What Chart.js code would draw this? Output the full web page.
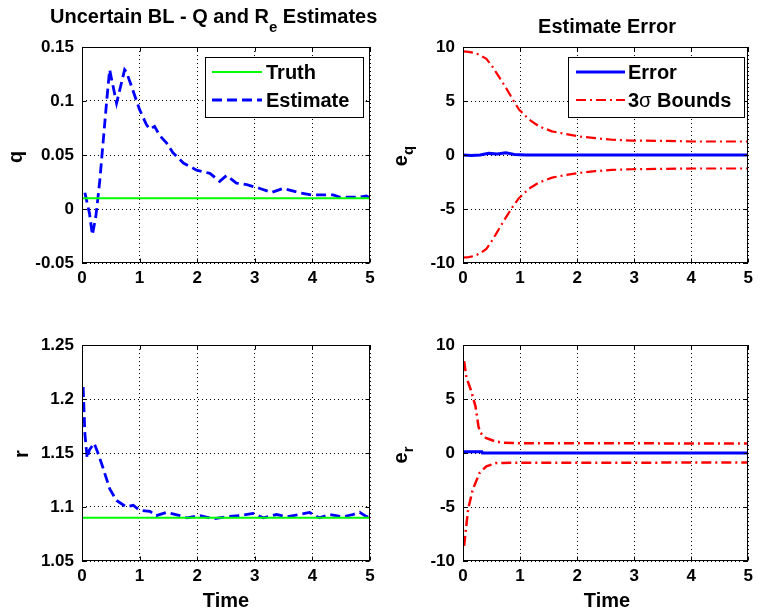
<!DOCTYPE html>
<html>
<head>
<meta charset="utf-8">
<script src="https://cdn.jsdelivr.net/npm/chart.js@4/dist/chart.umd.min.js"></script>
<style>
  html, body { margin: 0; padding: 0; background: #ffffff; }
  #wrap { position: relative; width: 758px; height: 614px; background: #ffffff; }
  #wrap canvas { position: absolute; left: 0; top: 0; }
</style>
</head>
<body>
<div id="wrap">
  <canvas id="c1" width="758" height="614"></canvas>
  <canvas id="c2" width="758" height="614"></canvas>
  <canvas id="c3" width="758" height="614"></canvas>
  <canvas id="c4" width="758" height="614"></canvas>
</div>
<script>
// ---------------- DATA ----------------
const timeTicks = [0, 1, 2, 3, 4, 5];
const timeTickLabels = ['0', '1', '2', '3', '4', '5'];

// q estimate (top-left)
const qTime = [0.05, 0.13, 0.18, 0.24, 0.28, 0.31, 0.37, 0.43, 0.48, 0.60, 0.74, 0.77, 0.85, 1.00, 1.12, 1.18, 1.26, 1.35, 1.47, 1.58, 1.76, 1.99, 2.22, 2.39, 2.51, 2.68, 2.86, 3.09, 3.29, 3.49, 3.78, 3.98, 4.36, 4.47, 4.82, 4.94, 5.00];
const qEstimate = [0.015, -0.004, -0.024, -0.007, 0.012, 0.027, 0.064, 0.101, 0.129, 0.098, 0.129, 0.127, 0.115, 0.092, 0.078, 0.074, 0.0765, 0.068, 0.061, 0.052, 0.0426, 0.036, 0.033, 0.0256, 0.031, 0.024, 0.0225, 0.019, 0.0154, 0.019, 0.015, 0.013, 0.013, 0.011, 0.011, 0.012, 0.010];
const qTruthTime = [0, 5];
const qTruth = [0.01, 0.01];
const qTicks = [-0.05, 0, 0.05, 0.1, 0.15];
const qTickLabels = ['-0.05', '0', '0.05', '0.1', '0.15'];

// r estimate (bottom-left)
const rTime = [0.02, 0.05, 0.09, 0.13, 0.21, 0.27, 0.36, 0.48, 0.60, 0.77, 0.89, 1.00, 1.18, 1.29, 1.47, 1.70, 1.82, 2.05, 2.28, 2.51, 2.74, 2.97, 3.15, 3.38, 3.55, 3.78, 3.95, 4.12, 4.30, 4.53, 4.70, 4.82, 4.94, 5.00];
const rEstimate = [1.211, 1.168, 1.145, 1.153, 1.159, 1.151, 1.137, 1.117, 1.106, 1.100, 1.1016, 1.097, 1.096, 1.092, 1.095, 1.092, 1.090, 1.092, 1.089, 1.091, 1.092, 1.094, 1.090, 1.093, 1.091, 1.093, 1.095, 1.090, 1.093, 1.091, 1.093, 1.095, 1.091, 1.091];
const rTruthTime = [0, 5];
const rTruth = [1.09, 1.09];
const rTicks = [1.05, 1.1, 1.15, 1.2, 1.25];
const rTickLabels = ['1.05', '1.1', '1.15', '1.2', '1.25'];

// e_q error and 3-sigma bounds (top-right)
const eqErrTime = [0, 0.15, 0.30, 0.45, 0.60, 0.75, 0.90, 1.10, 5.00];
const eqError = [0.0, -0.05, 0.0, 0.15, 0.10, 0.20, 0.05, 0.0, 0.0];
const eqSigTime = [0, 0.10, 0.20, 0.30, 0.41, 0.50, 0.58, 0.75, 0.87, 0.98, 1.16, 1.33, 1.56, 1.80, 2.03, 2.32, 2.61, 2.95, 3.48, 4.06, 5.00];
const eqSigUpper = [9.6, 9.55, 9.45, 9.25, 8.9, 8.3, 7.66, 6.25, 5.16, 4.22, 3.28, 2.66, 2.19, 1.94, 1.72, 1.56, 1.41, 1.34, 1.31, 1.25, 1.25];
const eqSigLower = [-9.5, -9.45, -9.35, -9.1, -8.7, -8.0, -7.3, -5.8, -4.8, -4.0, -3.1, -2.55, -2.1, -1.85, -1.66, -1.5, -1.38, -1.32, -1.28, -1.25, -1.25];
const eTicks = [-10, -5, 0, 5, 10];
const eTickLabels = ['-10', '-5', '0', '5', '10'];

// e_r error and 3-sigma bounds (bottom-right)
const erErrTime = [0, 0.33, 0.34, 5.00];
const erError = [0.12, 0.12, 0.0, 0.0];
const erUpTime = [0.02, 0.06, 0.14, 0.22, 0.27, 0.30, 0.40, 0.55, 0.70, 1.00, 2.00, 3.00, 4.00, 5.00];
const erSigUpper = [8.5, 7.0, 5.8, 4.3, 2.5, 1.9, 1.4, 1.1, 0.95, 0.9, 0.9, 0.9, 0.88, 0.88];
const erLoTime = [0.02, 0.05, 0.09, 0.17, 0.29, 0.41, 0.58, 1.00, 2.00, 3.00, 4.00, 5.00];
const erSigLower = [-8.6, -7.1, -5.2, -3.4, -1.85, -1.23, -0.93, -0.9, -0.9, -0.9, -0.88, -0.88];

// ---------------- HELPERS ----------------
const FONT = "'Liberation Sans', Arial, Helvetica, sans-serif";
const pts = (xs, ys) => xs.map((x, i) => ({ x: x, y: ys[i] }));

const BLUE = '#0000ff', RED = '#ff0000', GREEN = '#00ff00';
const DASH_EST = [10, 5];
const DASH_DOT = [10, 4, 2, 4];

function lineDS(label, data, color, width, dash) {
  return {
    label: label, data: data, borderColor: color, backgroundColor: color,
    borderWidth: width, borderDash: dash || [], pointRadius: 0, tension: 0,
    fill: false, borderCapStyle: 'butt', borderJoinStyle: 'miter'
  };
}

function partsWidth(ctx, parts) {
  let w = 0;
  parts.forEach(p => { ctx.font = p.font; w += ctx.measureText(p.t).width; });
  return w;
}
function drawParts(ctx, parts, x, y) {
  let cx = x;
  parts.forEach(p => {
    ctx.font = p.font;
    ctx.fillText(p.t, cx, y + (p.dy || 0));
    cx += ctx.measureText(p.t).width;
  });
}

function makeChart(id, rect, yMin, yMax, yTicks, yTickLabels, datasets, deco) {
  const yW = 70, xH = 30;
  const ctx = document.getElementById(id).getContext('2d');
  const framePlugin = {
    id: 'frame_' + id,
    afterDraw(chart) {
      const c = chart.ctx;
      const a = chart.chartArea;
      const xs = chart.scales.x, ys = chart.scales.y;
      c.save();
      c.strokeStyle = '#000';
      c.lineWidth = 1;
      c.setLineDash([]);
      const l = Math.round(a.left) + 0.5, t = Math.round(a.top) + 0.5;
      const r = Math.round(a.right) - 0.5, b = Math.round(a.bottom) - 0.5;
      c.strokeRect(l, t, r - l, b - t);
      const tl = 4;
      c.beginPath();
      timeTicks.forEach(v => {
        const px = Math.round(xs.getPixelForValue(v)) + 0.5;
        c.moveTo(px, b); c.lineTo(px, b - tl);
        c.moveTo(px, t); c.lineTo(px, t + tl);
      });
      yTicks.forEach(v => {
        const py = Math.round(ys.getPixelForValue(v)) + 0.5;
        c.moveTo(l, py); c.lineTo(l + tl, py);
        c.moveTo(r, py); c.lineTo(r - tl, py);
      });
      c.stroke();
      c.restore();
      if (deco) deco(c, chart);
    }
  };
  return new Chart(ctx, {
    type: 'line',
    data: { datasets: datasets },
    options: {
      responsive: false,
      animation: false,
      devicePixelRatio: 1,
      layout: {
        padding: { left: rect.l - yW, top: rect.t, right: 758 - rect.r, bottom: 614 - rect.b - xH }
      },
      plugins: { legend: { display: false }, title: { display: false }, tooltip: { enabled: false } },
      scales: {
        x: {
          type: 'linear', min: 0, max: 5,
          afterBuildTicks: s => { s.ticks = timeTicks.map(v => ({ value: v })); },
          afterFit: s => { s.height = xH; },
          ticks: {
            autoSkip: false, maxRotation: 0, padding: 5, color: '#000',
            font: { family: FONT, size: 17, weight: 'bold' },
            callback: (v, i) => timeTickLabels[i]
          },
          grid: { color: '#000', lineWidth: 1, drawTicks: false },
          border: { display: false, dash: [1, 3] }
        },
        y: {
          type: 'linear', min: yMin, max: yMax,
          afterBuildTicks: s => { s.ticks = yTicks.map(v => ({ value: v })); },
          afterFit: s => { s.width = yW; },
          ticks: {
            autoSkip: false, padding: 8, color: '#000',
            font: { family: FONT, size: 17, weight: 'bold' },
            callback: (v, i) => yTickLabels[i]
          },
          grid: { color: '#000', lineWidth: 1, drawTicks: false },
          border: { display: false, dash: [1, 3] }
        }
      }
    },
    plugins: [framePlugin]
  });
}

function drawLegend(c, box, items) {
  c.save();
  c.fillStyle = '#fff';
  c.fillRect(box.x, box.y, box.w, box.h);
  c.strokeStyle = '#000';
  c.lineWidth = 1;
  c.setLineDash([]);
  c.strokeRect(box.x + 0.5, box.y + 0.5, box.w, box.h);
  items.forEach(it => {
    c.beginPath();
    c.strokeStyle = it.color;
    c.lineWidth = it.width;
    c.setLineDash(it.dash || []);
    c.moveTo(it.x0, it.y); c.lineTo(it.x1, it.y);
    c.stroke();
    c.setLineDash([]);
    c.fillStyle = '#000';
    c.textBaseline = 'alphabetic';
    c.textAlign = 'left';
    drawParts(c, it.parts, it.tx, it.y + 7);
  });
  c.restore();
}

function drawRotated(c, parts, cy, baselineX) {
  c.save();
  c.fillStyle = '#000';
  c.textBaseline = 'alphabetic';
  c.textAlign = 'left';
  const w = partsWidth(c, parts);
  c.translate(baselineX, cy);
  c.rotate(-Math.PI / 2);
  drawParts(c, parts, -w / 2, 0);
  c.restore();
}

const B20 = 'bold 20px ' + FONT;
const B15 = 'bold 15px ' + FONT;

// ---------------- TOP LEFT ----------------
makeChart('c1', { l: 82, t: 47, r: 370, b: 263 }, -0.05, 0.15, qTicks, qTickLabels, [
  lineDS('Truth', pts(qTruthTime, qTruth), GREEN, 2, []),
  lineDS('Estimate', pts(qTime, qEstimate), BLUE, 2.8, DASH_EST)
], (c) => {
  c.save();
  c.fillStyle = '#000';
  c.textBaseline = 'alphabetic';
  drawParts(c, [
    { t: 'Uncertain BL - Q and R', font: B20 },
    { t: 'e', font: B15, dy: 9 },
    { t: ' Estimates', font: B20 }
  ], 50, 23);
  c.restore();
  drawRotated(c, [{ t: 'q', font: B20 }], 157, 22);
  drawLegend(c, { x: 205, y: 57, w: 158, h: 60 }, [
    { x0: 212, x1: 262, y: 72, color: GREEN, width: 2, dash: [], tx: 266, parts: [{ t: 'Truth', font: B20 }] },
    { x0: 212, x1: 262, y: 100, color: BLUE, width: 2.8, dash: DASH_EST, tx: 266, parts: [{ t: 'Estimate', font: B20 }] }
  ]);
});

// ---------------- TOP RIGHT ----------------
makeChart('c2', { l: 463, t: 47, r: 751, b: 263 }, -10, 10, eTicks, eTickLabels, [
  lineDS('3σ upper', pts(eqSigTime, eqSigUpper), RED, 2.2, DASH_DOT),
  lineDS('3σ lower', pts(eqSigTime, eqSigLower), RED, 2.2, DASH_DOT),
  lineDS('Error', pts(eqErrTime, eqError), BLUE, 3, [])
], (c) => {
  c.save();
  c.fillStyle = '#000';
  c.textBaseline = 'alphabetic';
  c.textAlign = 'center';
  c.font = B20;
  c.fillText('Estimate Error', 607, 33);
  c.restore();
  drawRotated(c, [{ t: 'e', font: B20 }, { t: 'q', font: B15, dy: 6 }], 156, 407);
  drawLegend(c, { x: 568, y: 57, w: 176, h: 60 }, [
    { x0: 576, x1: 625, y: 72, color: BLUE, width: 3, dash: [], tx: 628, parts: [{ t: 'Error', font: B20 }] },
    { x0: 576, x1: 625, y: 100, color: RED, width: 2.2, dash: DASH_DOT, tx: 628,
      parts: [{ t: '3', font: B20 }, { t: 'σ', font: '20px ' + FONT }, { t: ' Bounds', font: B20 }] }
  ]);
});

// ---------------- BOTTOM LEFT ----------------
makeChart('c3', { l: 82, t: 345, r: 370, b: 561 }, 1.05, 1.25, rTicks, rTickLabels, [
  lineDS('Truth', pts(rTruthTime, rTruth), GREEN, 2, []),
  lineDS('Estimate', pts(rTime, rEstimate), BLUE, 2.8, DASH_EST)
], (c) => {
  c.save();
  c.fillStyle = '#000';
  c.textBaseline = 'alphabetic';
  c.textAlign = 'center';
  c.font = B20;
  c.fillText('Time', 226, 607);
  c.restore();
  drawRotated(c, [{ t: 'r', font: B20 }], 454, 28);
});

// ---------------- BOTTOM RIGHT ----------------
makeChart('c4', { l: 463, t: 345, r: 751, b: 561 }, -10, 10, eTicks, eTickLabels, [
  lineDS('3σ upper', pts(erUpTime, erSigUpper), RED, 2.5, DASH_DOT),
  lineDS('3σ lower', pts(erLoTime, erSigLower), RED, 2.5, DASH_DOT),
  lineDS('Error', pts(erErrTime, erError), BLUE, 3, [])
], (c) => {
  c.save();
  c.fillStyle = '#000';
  c.textBaseline = 'alphabetic';
  c.textAlign = 'center';
  c.font = B20;
  c.fillText('Time', 607, 607);
  c.restore();
  drawRotated(c, [{ t: 'e', font: B20 }, { t: 'r', font: B15, dy: 6 }], 455, 407);
});
</script>
</body>
</html>
